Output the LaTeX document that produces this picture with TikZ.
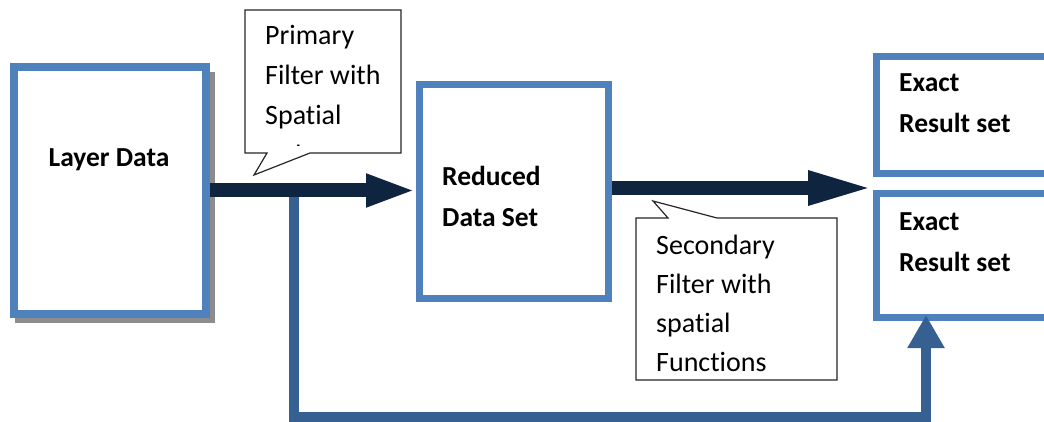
\documentclass[tikz,border=0pt]{standalone}
\usepackage{fontspec}
\setmainfont{Carlito}[RawFeature={-liga;-dlig}]
\usetikzlibrary{arrows.meta,calc}
\definecolor{boxblue}{HTML}{4F81BD}
\definecolor{navy}{HTML}{0F243E}
\definecolor{fbblue}{HTML}{376092}
\begin{document}
\begin{tikzpicture}[x=1pt,y=-1pt,
  box/.style={draw=boxblue, fill=white, line width=7pt, outer sep=0pt, inner sep=0pt, rectangle},
  lbl/.style={font=\fontsize{27.5}{41}\selectfont\bfseries, align=left, inner sep=0pt, anchor=west},
  ctext/.style={font=\fontsize{28}{40}\selectfont, align=left, inner sep=0pt, anchor=west},
  callout/.style={draw=black!85, line width=1.2pt, fill=white, line join=miter},
  mainarrow/.style={draw=navy, fill=navy, line width=14pt},
  fbarrow/.style={draw=fbblue, line width=10pt, line join=miter, -{Triangle[length=33pt,width=35pt]}}
]
\useasboundingbox (0,0) rectangle (1044,422);
\clip (0,0) rectangle (1044,422);

% shadow of layer box
\fill[gray!90] (15,72) rectangle (215,323);
\node[box, line width=8pt, minimum width=192pt, minimum height=247pt] (ld) at (110,190.5) {};
\node[box, minimum width=189pt, minimum height=214pt] (rd) at (514,191.5) {};
\node[box, minimum width=194pt, minimum height=117pt] (r1) at (973.5,115) {};
\node[box, minimum width=194pt, minimum height=124pt] (r2) at (973.5,255.5) {};

\node[lbl, anchor=center] (ldt) at (109,160) {Layer Data};
\node[lbl] (rdt) at (442,196) {Reduced\\Data Set};
\node[lbl] (r1t) at (899,103) {Exact\\Result set};
\node[lbl] (r2t) at (899,242) {Exact\\Result set};

% feedback arrow
\coordinate (fb) at (294,193);
\coordinate (fbend) at (926,417);
\draw[fbarrow, shorten >=-2.5pt] (fb) |- (fbend) -- (fbend |- r2.south);

% main arrows
\coordinate (tip2) at (874,188);
\draw[mainarrow, -{Triangle[length=50pt,width=30pt]}, shorten <=4pt, shorten >=3.5pt] (ld.east) -- (rd.west |- ld.east);
\draw[mainarrow, -{Triangle[length=66pt,width=31pt]}, shorten <=3.5pt] (rd.east |- tip2) -- (tip2);

% primary callout
\draw[callout] (245,10) -- (401,10) -- (401,153) -- (310,153) -- (254,175) -- (267,153) -- (245,153) -- cycle;
\begin{scope}
\clip (246,11) rectangle (400,146);
\node[ctext] (pft) at (265,95) {Primary\\Filter with\\Spatial\\Index};
\end{scope}

% secondary callout
\draw[callout] (636,218) -- (668,218) -- (653,201) -- (717,218) -- (837,218) -- (837,380) -- (636,380) -- cycle;
\node[ctext, font=\fontsize{28}{39}\selectfont] (sft) at (656,303.5) {Secondary\\Filter with\\spatial\\Functions};
\end{tikzpicture}
\end{document}
